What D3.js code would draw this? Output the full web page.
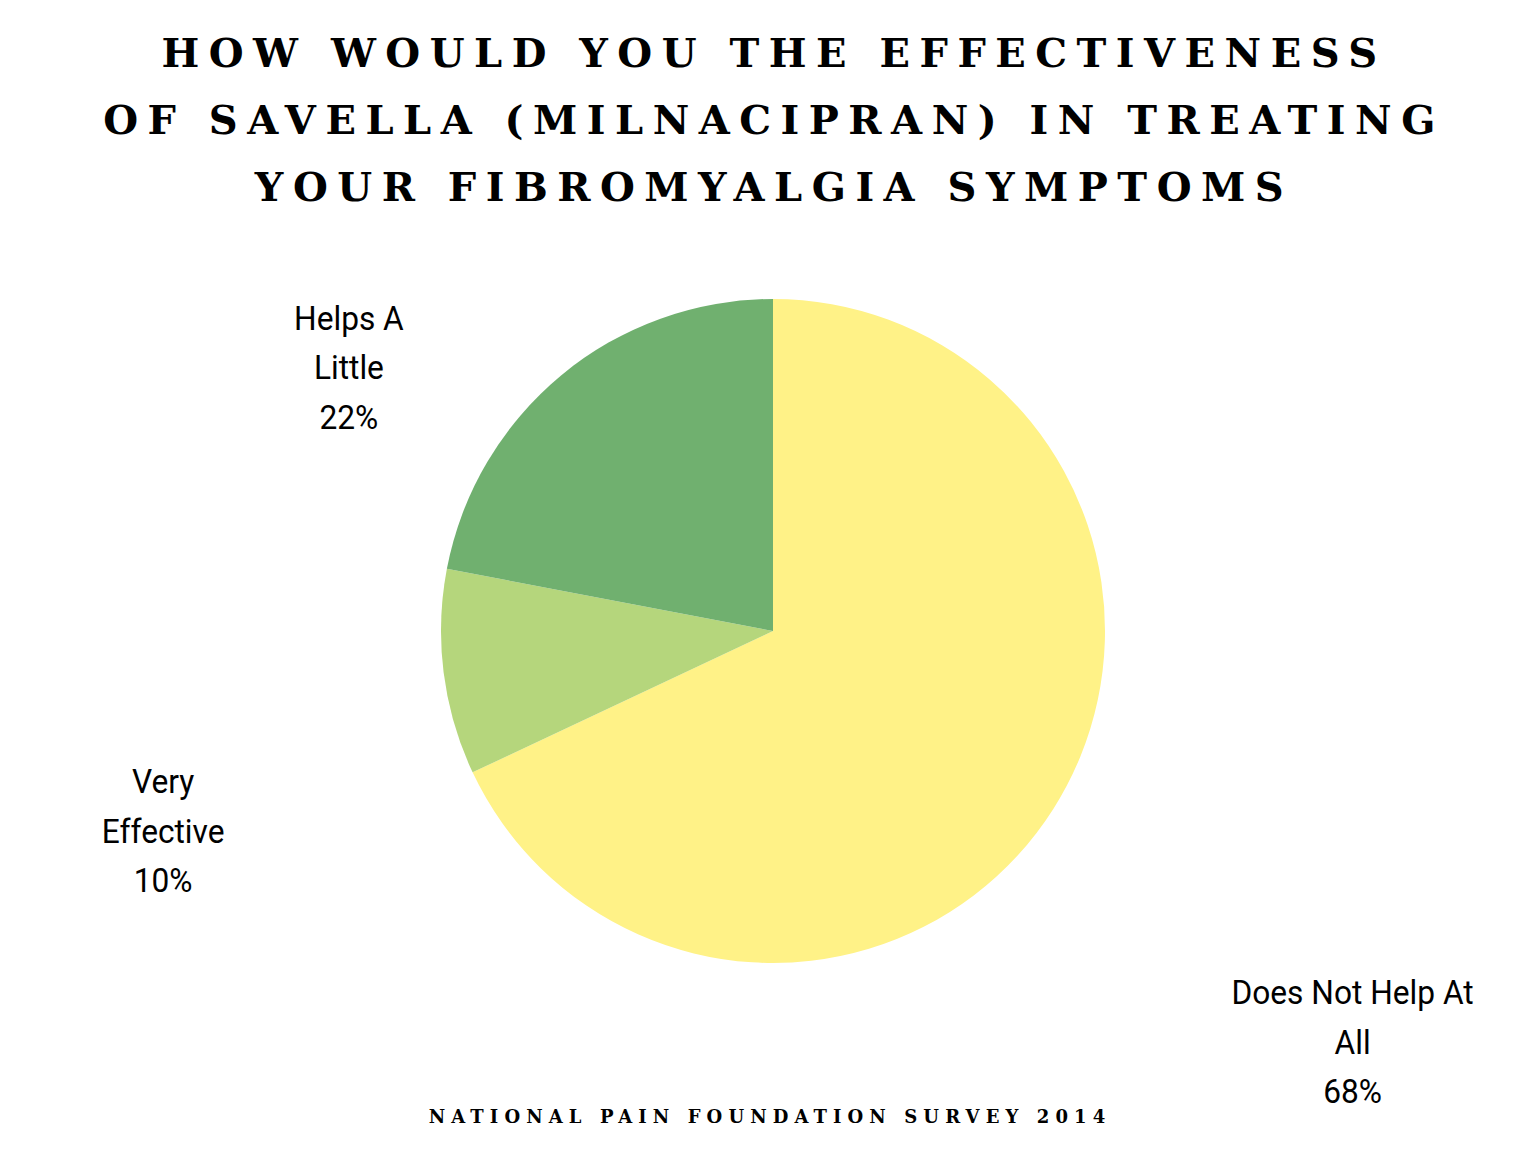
<!DOCTYPE html>
<html>
<head>
<meta charset="utf-8">
<script src="https://cdn.jsdelivr.net/npm/d3@7"></script>
<style>
  body { margin: 0; background: #fff; }
  .title { font-family: "DejaVu Serif", "Liberation Serif", serif; font-weight: bold; font-size: 40px; letter-spacing: 9.5px; }
  .foot { font-family: "DejaVu Serif", "Liberation Serif", serif; font-weight: bold; font-size: 18px; letter-spacing: 6.1px; }
  .lbl { font-family: Roboto, sans-serif; font-size: 33px; }
</style>
</head>
<body>
<svg id="chart" width="1536" height="1152"></svg>
<script>
const categories = ["Does Not Help At All", "Very Effective", "Helps A Little"];
const values = [68, 10, 22];
const colors = ["#FFF287", "#B5D67C", "#70B06F"];
const titleLines = ["HOW WOULD YOU THE EFFECTIVENESS", "OF SAVELLA (MILNACIPRAN) IN TREATING", "YOUR FIBROMYALGIA SYMPTOMS"];
const footer = "NATIONAL PAIN FOUNDATION SURVEY 2014";

// label placement: [angle deg clockwise from top, distance from center], label lines
const labelPos = [[125.4, 711], [251.8, 642], [301.8, 499]];
const labelLines = [["Does Not Help At", "All"], ["Very", "Effective"], ["Helps A", "Little"]];

const svg = d3.select("#chart");
const cx = 773, cy = 631, r = 332;

svg.selectAll("text.title").data(titleLines).enter().append("text")
    .attr("class", "title")
    .attr("x", 774)
    .attr("y", (d, i) => 67 + i * 67)
    .attr("text-anchor", "middle")
    .text(d => d);

const data = categories.map((c, i) => ({name: c, value: values[i], i: i}));
const pie = d3.pie().value(d => d.value).sort(null);
const arc = d3.arc().innerRadius(0).outerRadius(r);

const g = svg.append("g").attr("transform", "translate(" + cx + "," + cy + ")");
g.selectAll("path").data(pie(data)).enter().append("path")
    .attr("d", arc)
    .attr("fill", d => colors[d.data.i]);

const lab = g.selectAll("g.lab").data(pie(data)).enter().append("g")
    .attr("class", "lab")
    .attr("transform", d => {
        const p = labelPos[d.data.i];
        const a = p[0] * Math.PI / 180;
        return "translate(" + (Math.sin(a) * p[1]) + "," + (-Math.cos(a) * p[1]) + ")";
    });
lab.each(function(d) {
    const lines = labelLines[d.data.i].concat([d.data.value + "%"]);
    d3.select(this).selectAll("text").data(lines).enter().append("text")
        .attr("class", "lbl")
        .attr("text-anchor", "middle")
        .attr("transform", "scale(0.96,1)")
        .attr("y", (t, k) => (k - 1) * 49.5 + 11)
        .text(t => t);
});

svg.append("text")
    .attr("class", "foot")
    .attr("x", 770)
    .attr("y", 1123)
    .attr("text-anchor", "middle")
    .text(footer);
</script>
</body>
</html>
